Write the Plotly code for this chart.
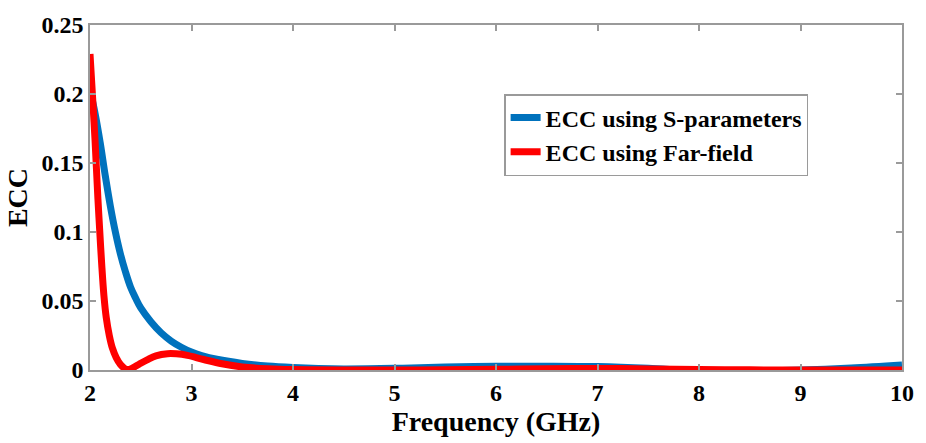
"""ECC versus frequency chart, serif-font check run."""
import plotly.graph_objects as go

SERIF = "Liberation Serif"

# ECC from S-parameters (blue curve)
s_freq = [2.00, 2.05, 2.10, 2.15, 2.20, 2.25, 2.30, 2.35, 2.40, 2.45, 2.50, 2.60, 2.70,
          2.80, 2.90, 3.00, 3.10, 3.25, 3.50, 3.75, 4.00, 4.25, 4.50, 5.00, 5.50, 6.00,
          6.50, 7.00, 7.50, 8.00, 8.50, 9.00, 9.50, 10.00]
s_ecc = [0.203, 0.186, 0.165, 0.141, 0.119, 0.100, 0.084, 0.071, 0.060, 0.052, 0.045,
         0.035, 0.027, 0.021, 0.0165, 0.013, 0.0105, 0.0078, 0.0048, 0.0029, 0.0018,
         0.0011, 0.0008, 0.0012, 0.0022, 0.0027, 0.0028, 0.0025, 0.0012, -0.0008,
         -0.0007, 0.0000, 0.0015, 0.0037]

# ECC from far-field patterns (red curve)
ff_freq = [2.00, 2.03, 2.05, 2.078, 2.095, 2.115, 2.137, 2.16, 2.19, 2.22, 2.258, 2.30,
           2.34, 2.372, 2.42, 2.48, 2.568, 2.65, 2.764, 2.85, 2.96, 3.12, 3.30, 3.50,
           3.75, 4.00, 4.50, 5.00, 5.50, 6.00, 6.50, 7.00, 7.50, 8.00, 8.50, 9.00, 10.00]
ff_ecc = [0.229, 0.192, 0.166, 0.124, 0.102, 0.077, 0.054, 0.038, 0.025, 0.016, 0.009,
          0.004, 0.0012, 0.0003, 0.0015, 0.0040, 0.0076, 0.0103, 0.0118, 0.0117, 0.0106,
          0.0076, 0.0045, 0.0022, 0.0009, 0.0003, 0.0000, 0.0000, 0.0002, 0.0005,
          0.0009, 0.0011, 0.0008, 0.0003, 0.0001, 0.0000, 0.0000]

freq_tick_vals = [2, 3, 4, 5, 6, 7, 8, 9, 10]
ecc_tick_vals = [0, 0.05, 0.1, 0.15, 0.2, 0.25]
ecc_tick_text = ["0", "0.05", "0.1", "0.15", "0.2", "0.25"]

BOX = "#9a9a9a"


def sf(sz):
    return dict(family=SERIF, size=sz, weight=700, color="black")


fig = go.Figure()
fig.add_trace(go.Scatter(x=s_freq, y=s_ecc, mode="lines", name="ECC using S-parameters",
                         line=dict(color="#0072BD", width=7, shape="spline", smoothing=1.0),
                         cliponaxis=False))
fig.add_trace(go.Scatter(x=ff_freq, y=ff_ecc, mode="lines", name="ECC using Far-field",
                         line=dict(color="#FF0000", width=7, shape="spline", smoothing=1.0),
                         cliponaxis=False))

fig.update_layout(
    width=926, height=443,
    margin=dict(l=90, r=19, t=17, b=73),
    paper_bgcolor="white", plot_bgcolor="white",
    font=sf(24),
    showlegend=True,
    legend=dict(x=0.51, y=0.80, xanchor="left", yanchor="top",
                bgcolor="white", bordercolor=BOX, borderwidth=1.5,
                font=sf(24), tracegroupgap=0),
    xaxis=dict(range=[2, 10], tickvals=freq_tick_vals,
               ticks="inside", ticklen=6, tickcolor=BOX, tickwidth=1.5,
               showline=True, linecolor=BOX, linewidth=1.5, mirror="ticks",
               showgrid=False, zeroline=False, tickfont=sf(24),
               title=dict(text="Frequency (GHz)", standoff=4, font=sf(28))),
    yaxis=dict(range=[0, 0.25], tickvals=ecc_tick_vals, ticktext=ecc_tick_text,
               ticks="inside", ticklen=6, tickcolor=BOX, tickwidth=1.5,
               showline=True, linecolor=BOX, linewidth=1.5, mirror="ticks",
               showgrid=False, zeroline=False, tickfont=sf(24),
               title=dict(text="ECC", standoff=6, font=sf(28))),
)

fig.write_html("out.html")
